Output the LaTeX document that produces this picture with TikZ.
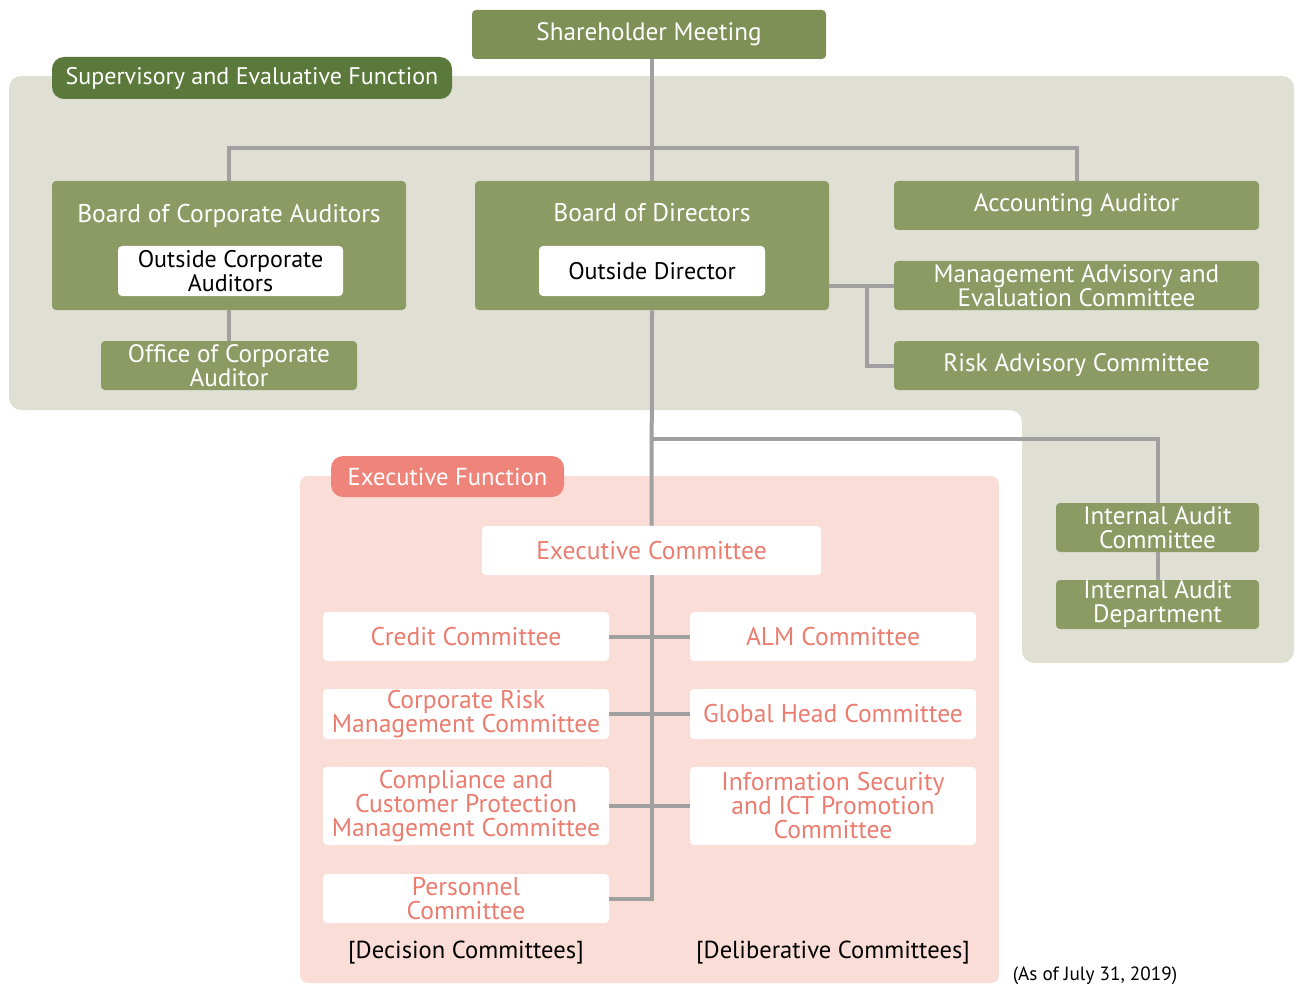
\documentclass[tikz,border=0pt]{standalone}
\usepackage{fontspec}
\setmainfont{PT Sans}
\usetikzlibrary{positioning}

\definecolor{oliveDark}{RGB}{126,144,86}
\definecolor{oliveBox}{RGB}{140,154,100}
\definecolor{oliveTag}{RGB}{91,121,58}
\definecolor{greenBg}{RGB}{223,224,211}
\definecolor{pinkBg}{RGB}{250,221,214}
\definecolor{pinkTag}{RGB}{239,132,122}
\definecolor{pinkText}{RGB}{235,125,112}
\definecolor{linkGray}{RGB}{160,160,160}

\tikzset{
  box/.style={rectangle, rounded corners=2pt, fill=oliveBox, text=white,
    align=center, inner sep=0pt, font=\fontsize{12.6}{12}\selectfont},
  inbox/.style={box, fill=white, text=black, font=\fontsize{12}{12}\selectfont},
  tag/.style={rectangle, rounded corners=6pt, text=white, inner sep=0pt,
    font=\fontsize{12}{12}\selectfont},
  cmt/.style={box, fill=white, text=pinkText, minimum width=143pt,
    font=\fontsize{12.8}{12}\selectfont},
  link/.style={draw=linkGray, line width=2pt}
}

\begin{document}
\begin{tikzpicture}[x=0.5pt, y=-0.5pt]
   \useasboundingbox (0,0) rectangle (1300,984);

   % Areas of fundo
   \fill[greenBg, rounded corners=6pt] (9,76) -- (1294,76) -- (1294,663)
      -- (1022,663) -- (1022,410) -- (9,410) -- cycle;
   \fill[pinkBg, rounded corners=4pt] (300,476) rectangle (999,983);

   % Supervisory and evaluative side
   \node[box, fill=oliveDark, minimum width=177pt, minimum height=24.5pt] (shareholder) at (649,34.5) {Shareholder Meeting};
   \node[tag, fill=oliveTag, minimum width=200pt, minimum height=21pt] (suptag) at (252,78) {Supervisory and Evaluative Function};
   \node[box, minimum width=177pt, minimum height=64.5pt] (boardaud) at (229,245.5) {};
   \node[text=white, font=\fontsize{12.8}{12}\selectfont] (boardaudtitle) at (229,216) {Board of Corporate Auditors};
   \node[inbox, minimum width=112.5pt, minimum height=25pt] (outaud) at (230.5,271) {Outside Corporate\\Auditors};
   \node[box, minimum width=128pt, minimum height=24.5pt] (officeaud) at (229,365.5) {Office of Corporate\\Auditor};
   \node[box, minimum width=177pt, minimum height=64.5pt] (board) at (652,245.5) {};
   \node[text=white, font=\fontsize{12.8}{12}\selectfont] (boardtitle) at (652,213) {Board of Directors};
   \node[inbox, minimum width=113pt, minimum height=25pt] (outdir) at (652,271) {Outside Director};
   \node[box, minimum width=182.5pt, minimum height=24.5pt] (accaud) at (1076.5,205.5) {Accounting Auditor};
   \node[box, minimum width=182.5pt, minimum height=24.5pt] (mgmtadv) at (1076.5,285.5) {Management Advisory and\\Evaluation Committee};
   \node[box, minimum width=182.5pt, minimum height=24.5pt] (riskadv) at (1076.5,365.5) {Risk Advisory Committee};
   \node[box, minimum width=101.5pt, minimum height=24.5pt] (iacmt) at (1157.5,527.5) {Internal Audit\\Committee};
   \node[box, minimum width=101.5pt, minimum height=24.5pt] (iadept) at (1157.5,604.5) {Internal Audit\\Department};

   % Executive side
   \node[tag, fill=pinkTag, minimum width=116.5pt, minimum height=20.5pt, font=\fontsize{12.3}{12}\selectfont] (exetag) at (447.5,476.5) {Executive Function};
   \node[cmt, minimum width=169.5pt, minimum height=24.5pt] (execmt) at (651.5,550.5) {Executive Committee};
   \node[cmt, minimum height=24.5pt] (credit) at (466,636.5) {Credit Committee};
   \node[cmt, minimum height=25pt] (corprisk) at (466,714) {Corporate Risk\\Management Committee};
   \node[cmt, minimum height=39pt] (compliance) at (466,806) {Compliance and\\Customer Protection\\Management Committee};
   \node[cmt, minimum height=24.5pt] (personnel) at (466,898.5) {Personnel\\Committee};
   \node[cmt, minimum height=24.5pt] (alm) at (833,636.5) {ALM Committee};
   \node[cmt, minimum height=25pt] (globalhead) at (833,714) {Global Head Committee};
   \node[cmt, minimum height=39pt] (infosec) at (833,806) {Information Security\\and ICT Promotion\\Committee};
   \node[font=\fontsize{12.3}{12}\selectfont] (decision) at (466,953) {[Decision Committees]};
   \node[font=\fontsize{12.3}{12}\selectfont] (deliberative) at (833,953) {[Deliberative Committees]};
   \node[anchor=base, font=\fontsize{9.6}{10}\selectfont] (asof) at (1095,980) {(As of July 31, 2019)};

   % Ligacoes
   \coordinate (topsplit) at (652,148);
   \coordinate (advsplit) at (867,285.5);
   \coordinate (iasplit) at (652,439);
   \draw[link] (board.north |- shareholder.south) -- (board.north);
   \draw[link] (boardaud.north) |- (topsplit) -| (accaud.north);
   \draw[link] (boardaud.south) -- (officeaud.north);
   \draw[link] (board.east |- mgmtadv.west) -- (mgmtadv.west);
   \draw[link] (advsplit) |- (riskadv.west);
   \draw[link] (board.south) -- (execmt.north);
   \draw[link] (iasplit) -| (iacmt.north);
   \draw[link] (iacmt.south) -- (iadept.north);
   \draw[link] (execmt.south) |- (personnel.east);
   \draw[link] (credit.east) -- (alm.west);
   \draw[link] (corprisk.east) -- (globalhead.west);
   \draw[link] (compliance.east) -- (infosec.west);
\end{tikzpicture}
\end{document}
